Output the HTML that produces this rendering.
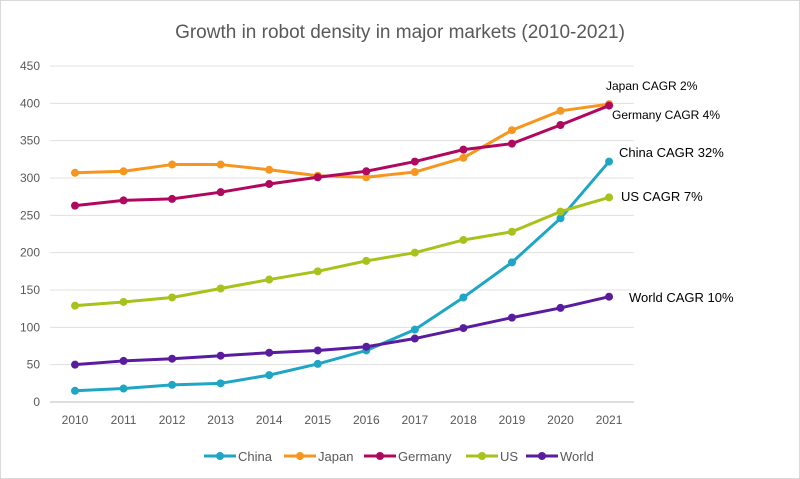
<!DOCTYPE html>
<html><head><meta charset="utf-8"><style>
html,body{margin:0;padding:0;background:#fff;}
svg{display:block;font-family:"Liberation Sans",sans-serif;}
</style></head><body>
<svg id="chart" width="800" height="479" viewBox="0 0 800 479">
<rect x="0.5" y="0.5" width="799" height="478" fill="#fff" stroke="#d9d9d9"/>
<text x="400" y="38" text-anchor="middle" font-size="19" fill="#595959">Growth in robot density in major markets (2010-2021)</text>
<g id="grid"></g><g id="axes"></g><g id="series"></g><g id="labels"></g><g id="legend"></g>
</svg>
<script>
const years=[2010,2011,2012,2013,2014,2015,2016,2017,2018,2019,2020,2021];
const yTicks=[0,50,100,150,200,250,300,350,400,450];
const china=[15,18,23,25,36,51,69,97,140,187,246,322];
const japan=[307,309,318,318,311,303,301,308,327,364,390,399];
const germany=[263,270,272,281,292,301,309,322,338,346,371,397];
const us=[129,134,140,152,164,175,189,200,217,228,255,274];
const world=[50,55,58,62,66,69,74,85,99,113,126,141];
const seriesNames=["China","Japan","Germany","US","World"];
const endLabels=["China CAGR 32%","Japan CAGR 2%","Germany CAGR 4%","US CAGR 7%","World CAGR 10%"];
const allSeries=[china,japan,germany,us,world];
const colors=["#1fa6c4","#f7961e","#b0085f","#a9c11b","#5a1c9e"];
const NS="http://www.w3.org/2000/svg";
function x(i){return 75+i*48.55;}
function y(v){return 402-v*(336/450);}
function mk(tag,attrs,parent){const e=document.createElementNS(NS,tag);for(const k in attrs)e.setAttribute(k,attrs[k]);parent.appendChild(e);return e;}
const grid=document.getElementById('grid'),axes=document.getElementById('axes'),ser=document.getElementById('series'),lab=document.getElementById('labels'),leg=document.getElementById('legend');
yTicks.forEach(t=>{
 const l=mk('line',{x1:50,x2:634,y1:y(t),y2:y(t),stroke:t===0?'#bfbfbf':'#e0e0e0','stroke-width':1},grid);
 
 
 const tx=mk('text',{x:40,y:y(t)+4,'text-anchor':'end','font-size':12,fill:'#595959'},axes);tx.textContent=t;
 
 
});
years.forEach((yr,i)=>{
 const tx=mk('text',{x:x(i),y:424,'text-anchor':'middle','font-size':12,fill:'#595959'},axes);tx.textContent=yr;
 
 
});
allSeries.forEach((d,s)=>{
 const g=mk('g',{},ser);
 
 
 const p=mk('polyline',{points:d.map((v,i)=>x(i)+','+y(v)).join(' '),fill:'none',stroke:colors[s],'stroke-width':3,'stroke-linejoin':'round'},g);
 
 
 d.forEach((v,i)=>{const c=mk('circle',{cx:x(i),cy:y(v),r:4,fill:colors[s]},g);
  
  });
});
const lpos=[[619,157,13],[606,90,12],[612,119,12],[621,201,13],[629,302,13]];
endLabels.forEach((t,s)=>{
 const tx=mk('text',{x:lpos[s][0],y:lpos[s][1],'font-size':lpos[s][2],fill:'#000'},lab);tx.textContent=t;
 
 
});
const legX=[204,284,364,466,526];
seriesNames.forEach((n,s)=>{
 const g=mk('g',{},leg);
 
 
 mk('line',{x1:legX[s],x2:legX[s]+32,y1:456,y2:456,stroke:colors[s],'stroke-width':3},g);
 mk('circle',{cx:legX[s]+16,cy:456,r:4,fill:colors[s]},g);
 const tx=mk('text',{x:legX[s]+34,y:461,'font-size':13,fill:'#595959'},g);tx.textContent=n;
});
</script>
</body></html>
